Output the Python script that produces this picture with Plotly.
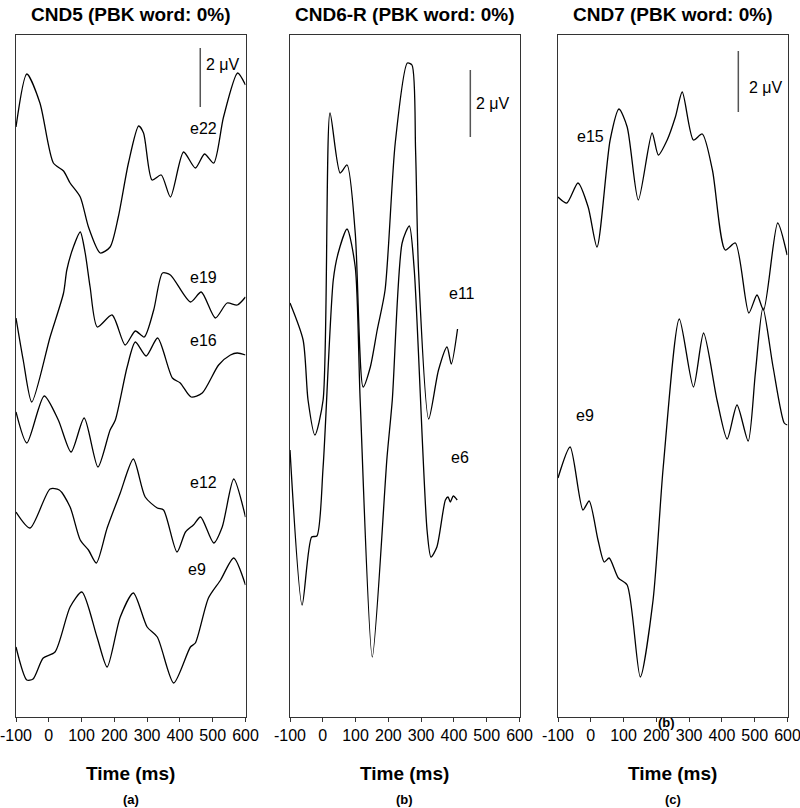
import plotly.graph_objects as go

# ---- data (time in ms, trace level in plot units, top = small) ----
# panel (a) CND5
T_A_E22 = [-100, -67, -27, 14, 45, 65, 96, 121, 157, 187, 212, 243, 274, 289, 315, 343, 371, 411, 447, 475, 503, 533, 576, 600]
Y_A_E22 = [127, 74, 103, 163, 171, 183, 197, 227, 253, 247, 217, 163, 126, 133, 180, 175, 197, 152, 168, 154, 163, 117, 73, 85]

T_A_E19 = [-100, -78, -52, 4, 45, 55, 75, 96, 111, 126, 148, 193, 233, 264, 291, 320, 347, 371, 432, 465, 508, 544, 575, 600]
Y_A_E19 = [318, 360, 402, 337, 293, 270, 247, 232, 253, 287, 327, 315, 345, 331, 337, 310, 273, 275, 302, 292, 318, 303, 305, 297]

T_A_E16 = [-100, -67, -14, 29, 68, 108, 150, 187, 203, 239, 264, 297, 332, 377, 401, 434, 468, 518, 554, 575, 600]
Y_A_E16 = [412, 443, 396, 420, 452, 418, 467, 430, 420, 367, 342, 356, 338, 378, 383, 397, 393, 365, 355, 353, 355]

T_A_E12 = [-100, -57, 4, 32, 65, 96, 121, 145, 178, 218, 258, 294, 331, 350, 391, 417, 441, 463, 503, 529, 564, 600]
Y_A_E12 = [512, 528, 489, 490, 507, 540, 550, 563, 528, 493, 459, 497, 508, 510, 552, 532, 525, 517, 543, 527, 479, 517]

T_A_E9 = [-100, -67, -48, -17, 19, 65, 101, 147, 178, 218, 258, 300, 331, 381, 432, 447, 487, 524, 564, 600]
Y_A_E9 = [647, 680, 679, 658, 652, 607, 592, 637, 667, 617, 593, 627, 637, 683, 647, 643, 598, 580, 558, 585]

# panel (b) CND6-R
T_B_E11 = [-100, -60, -45, -24, 1, 22, 53, 74, 99, 123, 145, 166, 190, 221, 258, 272, 283, 292, 323, 353, 379, 392, 411]
Y_B_E11 = [303, 340, 400, 435, 400, 113, 173, 165, 233, 387, 367, 330, 290, 143, 63, 65, 150, 270, 419, 370, 347, 364, 329]

T_B_E6 = [-100, -63, -34, -18, 1, 32, 47, 74, 99, 114, 151, 196, 212, 242, 264, 279, 318, 330, 348, 374, 382, 389, 398, 410]
Y_B_E6 = [450, 605, 537, 536, 467, 280, 253, 229, 267, 400, 657, 457, 400, 243, 226, 270, 530, 557, 547, 500, 497, 502, 496, 500]

# panel (c) CND7
T_C_E15 = [-100, -73, -39, -8, 19, 59, 86, 111, 145, 187, 206, 233, 258, 279, 313, 340, 371, 410, 441, 482, 507, 527, 570, 599]
Y_C_E15 = [197, 203, 183, 207, 247, 140, 109, 127, 200, 133, 155, 140, 117, 92, 140, 134, 170, 250, 243, 313, 295, 310, 223, 255]

T_C_E9 = [-100, -63, -24, -5, 22, 41, 56, 84, 111, 151, 190, 221, 270, 313, 344, 385, 416, 446, 480, 502, 525, 556, 590, 600]
Y_C_E9 = [478, 447, 510, 501, 540, 562, 558, 578, 585, 677, 600, 467, 319, 387, 333, 400, 439, 405, 441, 373, 308, 367, 423, 425]

# 2 uV scale bars: (time, level top, level bottom)
BAR_T = [462, 450, 450]
BAR_TOP = [48, 70, 51]
BAR_BOTTOM = [107, 137, 112]

TICKS = [-100, 0, 100, 200, 300, 400, 500, 600]
TICK_TEXT = ["-100", "0", "100", "200", "300", "400", "500", "600"]
TITLES = ["CND5 (PBK word: 0%)", "CND6-R (PBK word: 0%)", "CND7 (PBK word: 0%)"]
SUBLABELS = ["(a)", "(b)", "(c)"]

# channel labels: (panel, time, level, text)
CHAN_LABELS = [
    (0, 472, 128, "e22"), (0, 472, 277, "e19"), (0, 472, 340, "e16"),
    (0, 472, 482, "e12"), (0, 453, 569, "e9"),
    (1, 426, 293, "e11"), (1, 420, 457, "e6"),
    (2, -2, 136, "e15"), (2, -17, 415, "e9"),
]
UV_LABEL_T = [530, 520, 533]
UV_LABEL_Y = [64, 103, 87]

FONT = "Arial, Liberation Sans, sans-serif"
W, H = 800, 808
PANEL_X = [(16, 245.5), (290, 519.5), (558, 787.5)]
PANEL_TOP, PANEL_BOTTOM = 35, 717

traces = [
    (0, T_A_E22, Y_A_E22), (0, T_A_E19, Y_A_E19), (0, T_A_E16, Y_A_E16),
    (0, T_A_E12, Y_A_E12), (0, T_A_E9, Y_A_E9),
    (1, T_B_E11, Y_B_E11), (1, T_B_E6, Y_B_E6),
    (2, T_C_E15, Y_C_E15), (2, T_C_E9, Y_C_E9),
]

def ax(i):
    return ("x" if i == 0 else f"x{i+1}", "y" if i == 0 else f"y{i+1}")

fig = go.Figure()
for p, t, y in traces:
    xa, ya = ax(p)
    fig.add_trace(go.Scatter(x=t, y=y, mode="lines", xaxis=xa, yaxis=ya,
                             line=dict(color="black", width=1.3, shape="spline", smoothing=0.7),
                             showlegend=False, hoverinfo="skip"))

for i in range(3):
    xa, ya = ax(i)
    fig.add_trace(go.Scatter(x=[BAR_T[i], BAR_T[i]], y=[BAR_TOP[i], BAR_BOTTOM[i]], mode="lines",
                             xaxis=xa, yaxis=ya, line=dict(color="#555555", width=1.5),
                             showlegend=False, hoverinfo="skip"))

def note(text, x, y, xref="paper", yref="paper", size=16):
    return dict(text=text, x=x, y=y, xref=xref, yref=yref, showarrow=False,
                xanchor="center", yanchor="middle", font=dict(family=FONT, size=size, color="black"))

annotations = []
for i in range(3):
    xa, ya = ax(i)
    x0, x1 = PANEL_X[i]
    cx = (x0 + x1) / 2 / W
    annotations.append(note("<b>" + TITLES[i] + "</b>", cx, 1 - 14 / H, size=19))
    annotations.append(note("<b>Time (ms)</b>", cx, 1 - 773 / H, size=19))
    annotations.append(note("<b>" + SUBLABELS[i] + "</b>", cx, 1 - 799 / H, size=13))
    annotations.append(note("2 \u03bcV", UV_LABEL_T[i], UV_LABEL_Y[i], xa, ya))
for p, t, y, s in CHAN_LABELS:
    xa, ya = ax(p)
    annotations.append(note(s, t, y, xa, ya))
# stray "(b)" label sitting under panel (c)
annotations.append(note("<b>(b)</b>", 666 / W, 1 - 722 / H, size=13))

layout = dict(width=W, height=H, margin=dict(l=0, r=0, t=0, b=0, autoexpand=False),
              paper_bgcolor="white", plot_bgcolor="white", annotations=annotations)
for i in range(3):
    x0, x1 = PANEL_X[i]
    sfx = "" if i == 0 else str(i + 1)
    layout["xaxis" + sfx] = dict(domain=[x0 / W, x1 / W], range=[-100, 600], anchor="y" + sfx,
                                 tickvals=TICKS, ticktext=TICK_TEXT, ticks="outside", ticklen=4,
                                 tickcolor="#333333", showline=True, mirror=True, linecolor="#333333",
                                 linewidth=1, showgrid=False, zeroline=False, automargin=False,
                                 ticklabeloverflow="allow",
                                 tickfont=dict(family=FONT, size=16, color="black"))
    layout["yaxis" + sfx] = dict(domain=[1 - PANEL_BOTTOM / H, 1 - PANEL_TOP / H], range=[PANEL_BOTTOM, PANEL_TOP],
                                 anchor="x" + sfx, showline=True, mirror=True, linecolor="#333333",
                                 linewidth=1, showgrid=False, zeroline=False, showticklabels=False, ticks="",
                                 automargin=False)
fig.update_layout(**layout)
fig.write_html("out.html", config={"displayModeBar": False},
               post_script="document.body.style.margin='0';document.body.style.overflow='hidden';")
